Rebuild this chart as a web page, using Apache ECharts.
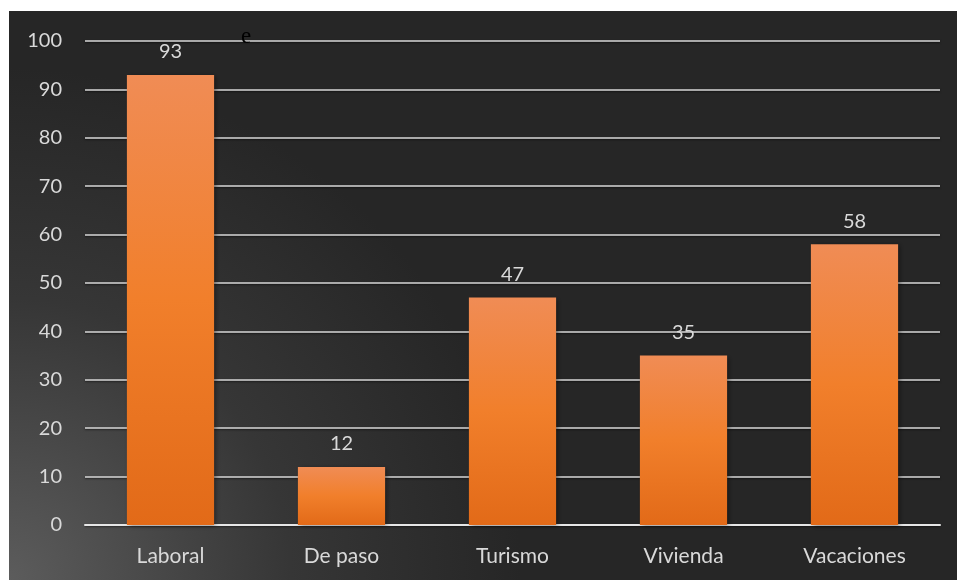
<!DOCTYPE html>
<html>
<head>
<meta charset="utf-8">
<script src="https://cdn.jsdelivr.net/npm/echarts@6/dist/echarts.min.js"></script>
<style>
  html, body { margin: 0; padding: 0; background: #ffffff; }
  #chart { width: 957px; height: 580px; }
</style>
</head>
<body>
<div id="chart"></div>
<script>
// Motivos de estancia
const categories = ['Laboral', 'De paso', 'Turismo', 'Vivienda', 'Vacaciones'];
const values = [93, 12, 47, 35, 58];
const yTicks = { min: 0, max: 100, interval: 10 };

const FONT = 'Lato, "Open Sans", sans-serif';

const chart = echarts.init(document.getElementById('chart'));

const barGradient = new echarts.graphic.LinearGradient(0, 0, 0, 1, [
  { offset: 0, color: '#f08c55' },
  { offset: 0.5, color: '#f17f2b' },
  { offset: 1, color: '#e26a18' }
]);

chart.setOption({
  animation: false,
  backgroundColor: '#ffffff',
  graphic: [
    {
      type: 'rect',
      z: -10,
      silent: true,
      shape: { x: 9, y: 11, width: 948, height: 569 },
      style: {
        fill: new echarts.graphic.RadialGradient(0.0, 1.0, 0.9, [
          { offset: 0, color: '#5c5c5c' },
          { offset: 0.55, color: '#363636' },
          { offset: 1, color: '#262626' }
        ])
      }
    },
    {
      type: 'text',
      left: 241,
      top: 25,
      z: 10,
      style: {
        text: 'e',
        fill: '#000000',
        font: '23px "Liberation Serif", "DejaVu Serif", serif'
      }
    }
  ],
  grid: { left: 85, right: 17, top: 41, bottom: 55 },
  xAxis: {
    type: 'category',
    data: categories,
    axisLine: { show: true, lineStyle: { color: '#e6e6e6', width: 2 } },
    axisTick: { show: false },
    axisLabel: {
      color: '#d9d9d9',
      fontFamily: FONT,
      fontSize: 21,
      margin: 21
    }
  },
  yAxis: {
    type: 'value',
    min: yTicks.min,
    max: yTicks.max,
    interval: yTicks.interval,
    axisLine: { show: false },
    axisTick: { show: false },
    axisLabel: {
      color: '#d9d9d9',
      fontFamily: FONT,
      fontSize: 20,
      margin: 23
    },
    splitLine: {
      lineStyle: {
        color: '#d9d9d9',
        width: 1.6,
        shadowColor: 'rgba(0,0,0,0.6)',
        shadowBlur: 2,
        shadowOffsetY: 1
      }
    }
  },
  series: [{
    type: 'bar',
    data: values,
    barWidth: '51%',
    itemStyle: {
      color: barGradient,
      shadowColor: 'rgba(0,0,0,0.45)',
      shadowBlur: 5,
      shadowOffsetX: 2,
      shadowOffsetY: 1
    },
    label: {
      show: true,
      position: 'top',
      distance: 13,
      color: '#d9d9d9',
      fontFamily: FONT,
      fontSize: 20
    }
  }]
});
</script>
</body>
</html>
